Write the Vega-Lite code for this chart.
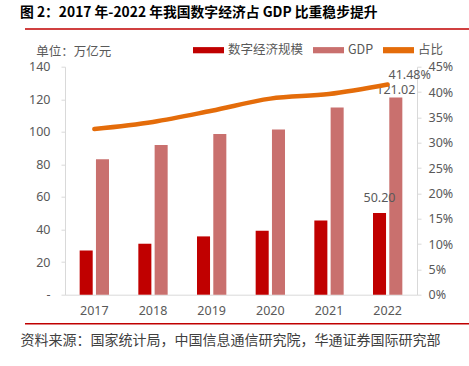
{
  "$schema": "https://vega.github.io/schema/vega-lite/v6.json",
  "width": 352,
  "height": 228,
  "autosize": {"type": "none"},
  "padding": {"left": 65, "top": 66.7, "right": 52, "bottom": 71.3},
  "background": "white",
  "config": {"view": {"stroke": null}, "font": "Noto Sans CJK SC"},
  "title": {
    "text": "图 2：2017 年-2022 年我国数字经济占 GDP 比重稳步提升",
    "anchor": "start",
    "frame": "group",
    "dx": -45,
    "dy": -4,
    "fontSize": 13.8,
    "fontWeight": "bold",
    "color": "#000000",
    "font": "Noto Sans CJK SC"
  },
  "datasets": {
    "bars": [
      {"year": "2017", "series": "数字经济规模", "value": 27.2},
      {"year": "2017", "series": "GDP", "value": 83.2},
      {"year": "2018", "series": "数字经济规模", "value": 31.3},
      {"year": "2018", "series": "GDP", "value": 91.9},
      {"year": "2019", "series": "数字经济规模", "value": 35.8},
      {"year": "2019", "series": "GDP", "value": 98.6},
      {"year": "2020", "series": "数字经济规模", "value": 39.2},
      {"year": "2020", "series": "GDP", "value": 101.4},
      {"year": "2021", "series": "数字经济规模", "value": 45.5},
      {"year": "2021", "series": "GDP", "value": 114.9},
      {"year": "2022", "series": "数字经济规模", "value": 50.2},
      {"year": "2022", "series": "GDP", "value": 121.02}
    ],
    "ratio": [
      {"year": "2017", "series": "占比", "ratio": 0.327},
      {"year": "2018", "series": "占比", "ratio": 0.341},
      {"year": "2019", "series": "占比", "ratio": 0.363},
      {"year": "2020", "series": "占比", "ratio": 0.387},
      {"year": "2021", "series": "占比", "ratio": 0.396},
      {"year": "2022", "series": "占比", "ratio": 0.4148}
    ],
    "rules": [
      {"edge": 0},
      {"edge": 1}
    ]
  },
  "layer": [
    {
      "layer": [
        {
          "data": {"name": "bars"},
          "mark": {"type": "bar"},
          "encoding": {
            "x": {
              "field": "year", "type": "nominal",
              "scale": {"paddingInner": 0.5, "paddingOuter": 0.25},
              "axis": {"title": null, "labelAngle": 0, "ticks": false, "tickSize": 0, "labelPadding": 10,
                       "domainColor": "#D9D9D9", "labelColor": "#595959", "labelFontSize": 12.5, "labelFont": "Noto Sans"}
            },
            "xOffset": {"field": "series", "type": "nominal", "sort": ["数字经济规模", "GDP"],
                        "scale": {"paddingInner": 0.2, "paddingOuter": 0}},
            "y": {
              "field": "value", "type": "quantitative",
              "scale": {"domain": [0, 140], "nice": false},
              "axis": {"title": "单位：万亿元", "titleAngle": 0, "titleX": -29.3, "titleY": -14.7,
                       "titleAlign": "left", "titleBaseline": "middle", "titleFontWeight": "normal",
                       "titleFontSize": 12.5, "titleColor": "#595959",
                       "values": [0, 20, 40, 60, 80, 100, 120, 140],
                       "labelExpr": "datum.value == 0 ? '-' : datum.label",
                       "grid": false, "tickSize": 4, "tickColor": "#D9D9D9", "domainColor": "#D9D9D9",
                       "labelPadding": 11, "labelColor": "#595959", "labelFontSize": 12.5, "labelFont": "Noto Sans"}
            },
            "color": {
              "field": "series", "type": "nominal",
              "scale": {"domain": ["数字经济规模", "GDP", "占比"], "range": ["#C00000", "#C9706E", "#E46C0A"]},
              "legend": {
                "title": null, "orient": "none", "legendX": 128, "legendY": -32, "direction": "horizontal",
                "gridAlign": "none",
                "symbolType": "M-1,-0.2H1V0.2H-1Z", "symbolSize": 961, "symbolStrokeWidth": 0,
                "labelFont": "Noto Sans CJK SC",
                "labelFontSize": 12.5, "labelColor": "#595959", "labelOffset": 4, "columnPadding": 9,
                "encode": {"symbols": {"update": {
                  "fill": {"scale": "color", "field": "value"},
                  "stroke": {"value": "transparent"},
                  "opacity": {"value": 1}
                }}}
              }
            }
          }
        },
        {
          "data": {"name": "bars"},
          "transform": [{"filter": "datum.year == '2022' && datum.series == 'GDP'"}],
          "mark": {"type": "text", "baseline": "middle", "dy": -8, "fontSize": 12.5, "color": "#595959", "font": "Noto Sans"},
          "encoding": {
            "x": {"field": "year", "type": "nominal"},
            "xOffset": {"field": "series", "type": "nominal", "sort": ["数字经济规模", "GDP"]},
            "y": {"field": "value", "type": "quantitative", "scale": {"domain": [0, 140], "nice": false}, "axis": null},
            "text": {"field": "value", "type": "quantitative", "format": ".2f"}
          }
        },
        {
          "data": {"name": "bars"},
          "transform": [{"filter": "datum.year == '2022' && datum.series == '数字经济规模'"}],
          "mark": {"type": "text", "baseline": "middle", "dy": -15, "fontSize": 12.5, "color": "#595959", "font": "Noto Sans"},
          "encoding": {
            "x": {"field": "year", "type": "nominal"},
            "xOffset": {"field": "series", "type": "nominal", "sort": ["数字经济规模", "GDP"]},
            "y": {"field": "value", "type": "quantitative", "scale": {"domain": [0, 140], "nice": false}, "axis": null},
            "text": {"field": "value", "type": "quantitative", "format": ".2f"}
          }
        },
        {
          "data": {"name": "ratio"},
          "mark": {"type": "line", "interpolate": "monotone", "strokeWidth": 4.5, "strokeCap": "round"},
          "encoding": {
            "x": {"field": "year", "type": "nominal"},
            "y": {
              "field": "ratio", "type": "quantitative",
              "scale": {"domain": [0, 0.45], "nice": false},
              "axis": {"orient": "right", "title": null, "format": ".0%",
                       "values": [0, 0.05, 0.1, 0.15, 0.2, 0.25, 0.3, 0.35, 0.4, 0.45],
                       "grid": false, "tickSize": 4, "tickColor": "#D9D9D9", "domainColor": "#D9D9D9",
                       "labelPadding": 7, "labelColor": "#595959", "labelFontSize": 12.5, "labelFont": "Noto Sans"}
            },
            "color": {"field": "series", "type": "nominal"}
          }
        },
        {
          "data": {"name": "ratio"},
          "transform": [{"filter": "datum.year == '2022'"}],
          "mark": {"type": "text", "baseline": "middle", "dx": 22, "dy": -10, "fontSize": 12.5, "color": "#595959", "font": "Noto Sans"},
          "encoding": {
            "x": {"field": "year", "type": "nominal"},
            "y": {"field": "ratio", "type": "quantitative", "scale": {"domain": [0, 0.45], "nice": false}, "axis": null},
            "text": {"field": "ratio", "type": "quantitative", "format": ".2%"}
          }
        }
      ],
      "resolve": {"scale": {"y": "independent"}}
    },
    {
      "data": {"name": "rules"},
      "mark": {"type": "rule", "color": "#C00000", "strokeWidth": 1.5},
      "encoding": {
        "x": {"datum": 0, "type": "quantitative", "scale": {"domain": [0, 1], "range": [-40, 404]}, "axis": null},
        "x2": {"datum": 1},
        "y": {"field": "edge", "type": "quantitative", "scale": {"domain": [0, 1], "range": [257, -37.7]}, "axis": null}
      }
    },
    {
      "data": {"name": "ratio"},
      "mark": {"type": "rule", "opacity": 0},
      "encoding": {
        "x": {
          "field": "year", "type": "nominal",
          "axis": {"orient": "bottom", "offset": 29, "domain": false,
                   "labels": false, "ticks": false, "grid": false,
                   "title": "资料来源：国家统计局，中国信息通信研究院，华通证券国际研究部",
                   "titleX": -45, "titleY": 16.7, "titleAlign": "left", "titleBaseline": "middle",
                   "titleFontSize": 14, "titleFontWeight": "normal", "titleColor": "#404040"}
        }
      }
    }
  ],
  "resolve": {"scale": {"x": "independent", "y": "independent"}, "axis": {"x": "independent"}}
}
